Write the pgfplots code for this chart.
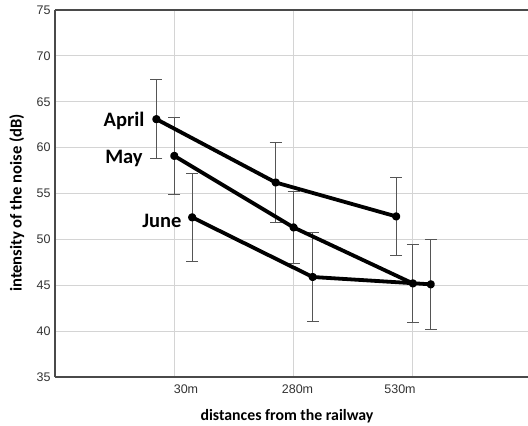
\documentclass[border=0pt]{standalone}
\usepackage{pgfplots}
\pgfplotsset{compat=1.18}
\usepackage{fontspec}
\setmainfont{Liberation Sans}
\newfontfamily\calib{Carlito}
\definecolor{gridc}{HTML}{D4D4D4}
\definecolor{axc}{HTML}{4A4A4A}
\definecolor{errc}{HTML}{555555}
\definecolor{tickc}{HTML}{333333}
\begin{document}
\begin{tikzpicture}
\useasboundingbox (-55pt,-49pt) rectangle (473pt,377pt);
\begin{axis}[
  at={(0pt,0pt)}, anchor=south west,
  scale only axis,
  width=473pt, height=367pt,
  xmin=0, xmax=3.965,
  ymin=35, ymax=75,
  axis x line=box, axis y line=left,
  axis line style={-, draw=axc, line width=1.2pt},
  xtick={1,2,3},
  xticklabels={},
  extra x ticks={1.098,2.033,2.892},
  extra x tick labels={30m,280m,530m},
  extra x tick style={grid=none, major tick length=0pt},
  ytick={35,40,...,75},
  grid=major,
  major grid style={draw=gridc, line width=0.9pt},
  tick pos=left,
  major tick length=0pt,
  /pgf/number format/assume math mode=true,
  ticklabel style={font=\fontsize{12.5}{14}\selectfont, text=tickc},
  xticklabel style={yshift=-4pt},
  yticklabel style={xshift=-1pt},
  clip=false,
]
% error bars (drawn first, under the lines)
\addplot[only marks, mark=*, mark size=0pt, forget plot,
  error bars/.cd, y dir=both, y explicit,
  error bar style={line width=0.8pt, draw=errc},
  error mark options={rotate=90, mark size=6pt, line width=0.8pt, draw=errc}]
  table[x=x, y=y, y error=e] {
x y e
0.85 63.1 4.3
1.85 56.2 4.35
2.86 52.5 4.25
};
\addplot[only marks, mark=*, mark size=0pt, forget plot,
  error bars/.cd, y dir=both, y explicit,
  error bar style={line width=0.8pt, draw=errc},
  error mark options={rotate=90, mark size=6pt, line width=0.8pt, draw=errc}]
  table[x=x, y=y, y error=e] {
x y e
1.00 59.1 4.15
2.00 51.3 3.9
3.00 45.2 4.2
};
\addplot[only marks, mark=*, mark size=0pt, forget plot,
  error bars/.cd, y dir=both, y explicit,
  error bar style={line width=0.8pt, draw=errc},
  error mark options={rotate=90, mark size=6pt, line width=0.8pt, draw=errc}]
  table[x=x, y=y, y error=e] {
x y e
1.15 52.4 4.8
2.16 45.9 4.85
3.15 45.1 4.9
};
% lines
\addplot[black, line width=3.8pt, line join=round, line cap=round, mark=*, mark size=2.2pt]
  table {
0.85 63.1
1.85 56.2
2.86 52.5
};
\addplot[black, line width=3.8pt, line join=round, line cap=round, mark=*, mark size=2.2pt]
  table {
1.00 59.1
2.00 51.3
3.00 45.2
};
\addplot[black, line width=3.8pt, line join=round, line cap=round, mark=*, mark size=2.2pt]
  table {
1.15 52.4
2.16 45.9
3.15 45.1
};
\end{axis}
\node[anchor=base, font=\calib\bfseries\fontsize{20.5}{24}\selectfont] at (69pt,250.3pt) {April};
\node[anchor=base, font=\calib\bfseries\fontsize{20.5}{24}\selectfont] at (69pt,213.7pt) {May};
\node[anchor=base, font=\calib\bfseries\fontsize{20.5}{24}\selectfont] at (107pt,149.5pt) {June};
\node[anchor=base, font=\calib\bfseries\fontsize{15.8}{18}\selectfont] at (232pt,-43pt) {distances from the railway};
\node[rotate=90, font=\calib\bfseries\fontsize{16.6}{19}\selectfont] at (-38.3pt,174pt) {intensity of the noise (dB)};
\end{tikzpicture}
\end{document}
